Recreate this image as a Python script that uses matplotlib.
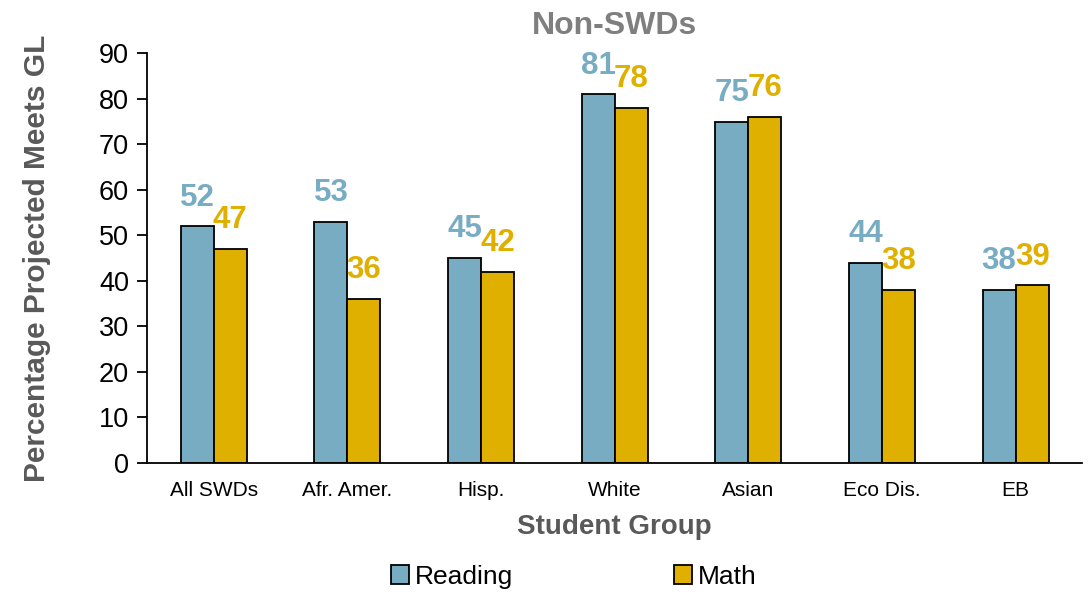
import matplotlib.pyplot as plt
import numpy as np

plt.rcParams['font.family'] = ['Liberation Sans', 'DejaVu Sans']

groups = ["All SWDs", "Afr. Amer.", "Hisp.", "White", "Asian", "Eco Dis.", "EB"]
reading = [52, 53, 45, 81, 75, 44, 38]
math = [47, 36, 42, 78, 76, 38, 39]
yticks = [0, 10, 20, 30, 40, 50, 60, 70, 80, 90]

blue = "#78ACC2"
gold = "#E0B000"

fig = plt.figure(figsize=(10.89, 5.92), dpi=100)
ax = fig.add_axes([0.135, 0.218, 0.859, 0.692])

x = np.arange(len(groups))
w = 0.247
ax.bar(x - w / 2, reading, w, color=blue, edgecolor="black", linewidth=1.3, label="Reading")
ax.bar(x + w / 2, math, w, color=gold, edgecolor="black", linewidth=1.3, label="Math")

# value labels above bars
for xi, v in zip(x, reading):
    ax.text(xi - w / 2, v + 3, str(v), color=blue, fontsize=22.5, fontweight="bold",
            ha="center", va="bottom")
for xi, v in zip(x, math):
    ax.text(xi + w / 2, v + 3, str(v), color=gold, fontsize=22.5, fontweight="bold",
            ha="center", va="bottom")

ax.set_xlim(-0.5, len(groups) - 0.5)
ax.set_ylim(0, 90)
ax.set_yticks(yticks)
ax.tick_params(axis="y", labelsize=19.5, direction="out", length=7, width=1.3, pad=6)
ax.tick_params(axis="x", labelsize=15, length=0, pad=13)
ax.set_xticks(x)
ax.set_xticklabels(groups)
for s in ["top", "right"]:
    ax.spines[s].set_visible(False)
for s in ["left", "bottom"]:
    ax.spines[s].set_linewidth(1.3)

ax.set_title("Non-SWDs", fontsize=23, fontweight="bold", color="#7F7F7F", pad=14)
ax.set_xlabel("Student Group", fontsize=20, fontweight="bold", color="#595959", labelpad=10)
ax.set_ylabel("Percentage Projected Meets GL", fontsize=21.5, fontweight="bold", color="#595959", labelpad=34)

ax.legend(loc="upper center", bbox_to_anchor=(0.456, -0.19), ncol=2, frameon=False,
          fontsize=19, handlelength=0.7, handleheight=0.7, handletextpad=0.2,
          columnspacing=6.1)

fig.savefig("out.png", dpi=100)
